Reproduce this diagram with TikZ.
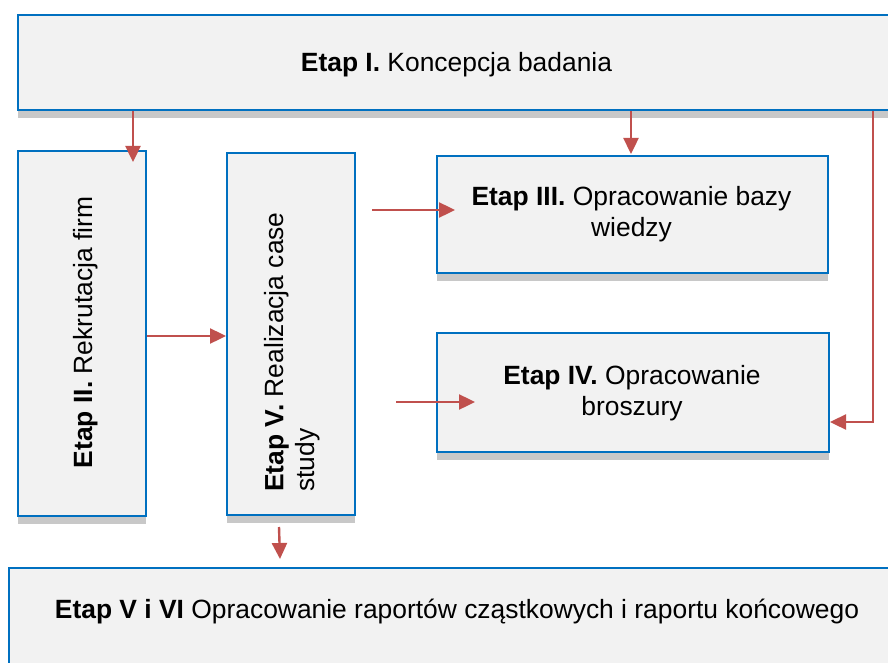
\documentclass[tikz,border=0pt]{standalone}
\usepackage{fontspec}
\setmainfont{Liberation Sans}
\usetikzlibrary{arrows.meta,shadows}
\definecolor{boxfill}{HTML}{F2F2F2}
\definecolor{boxline}{HTML}{0070C0}
\definecolor{shadowgray}{HTML}{C8C8C8}
\definecolor{arrowred}{HTML}{C0504D}
\begin{document}
\begin{tikzpicture}[x=1pt,y=-1pt,
  stagebox/.style={draw=boxline, fill=boxfill, line width=2pt, inner sep=0pt, anchor=north west,
    drop shadow={shadow xshift=0pt, shadow yshift=-8pt, fill=shadowgray, opacity=1}},
  lbl/.style={font=\fontsize{26.4}{31}\selectfont, inner sep=0pt},
  conn/.style={draw=arrowred, line width=2.4pt, -{Triangle[length=16pt,width=15pt]}}]
\useasboundingbox (0,0) rectangle (888,663);
\clip (0,0) rectangle (888,663);
\fill[white] (0,0) rectangle (888,663);

% boxes
\node[stagebox, minimum width=879pt, minimum height=95pt] (b1) at (17,14) {};
\node[stagebox, minimum width=128pt, minimum height=365pt] (b2) at (17,150) {};
\node[stagebox, minimum width=128pt, minimum height=362pt] (b5) at (226,152) {};
\node[stagebox, minimum width=391pt, minimum height=117pt] (b3) at (436,155) {};
\node[stagebox, minimum width=392pt, minimum height=119pt] (b4) at (436,332) {};
\node[stagebox, minimum width=898pt, minimum height=140pt] (b6) at (8,567) {};

% texts
\node[lbl, anchor=base] (t1) at (456.5,72) {\textbf{Etap I.} Koncepcja badania};
\node[lbl, rotate=90, anchor=base] (t2) at (92,332.5) {\textbf{Etap II.} Rekrutacja firm};
\node[lbl, rotate=90, align=left] (t5) at (292,352) {\textbf{Etap V.} Realizacja case\\study};
\node[lbl, align=center] (t3) at (631.5,214) {\textbf{Etap III.} Opracowanie bazy\\wiedzy};
\node[lbl, align=center] (t4) at (632,393) {\textbf{Etap IV.} Opracowanie\\broszury};
\node[lbl, anchor=base] (t6) at (457,618) {\textbf{Etap V i VI} Opracowanie raportów cząstkowych i raportu końcowego};

% connectors
\coordinate (a1e) at (133,162);
\draw[conn] (b1.south -| a1e) -- (a1e);
\coordinate (a2e) at (631,154);
\draw[conn] (b1.south -| a2e) -- (a2e);
\coordinate (a3) at (0,336);
\draw[conn] (b2.east |- a3) -- (b5.west |- a3);
\coordinate (a4s) at (372,210);
\coordinate (a4e) at (455,210);
\draw[conn] (a4s) -- (a4e);
\coordinate (a5s) at (396,402);
\coordinate (a5e) at (475,402);
\draw[conn] (a5s) -- (a5e);
\coordinate (a6) at (873,422);
\draw[conn] (b1.south -| a6) -- (a6) -- (b4.east |- a6);
\coordinate (a7s) at (279,527);
\coordinate (a7e) at (280,559);
\draw[conn] (a7s) -- (a7e);
\end{tikzpicture}
\end{document}
